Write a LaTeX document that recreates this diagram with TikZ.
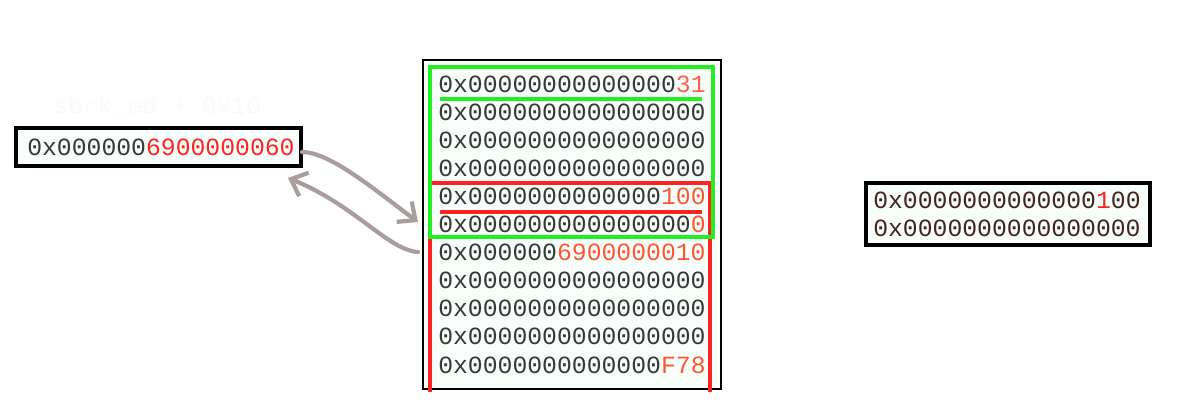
\documentclass[tikz,border=0pt]{standalone}
\usepackage{fontspec}
\setmonofont{Liberation Mono}
\usepackage{xcolor}
\usepackage{tikz}
\usetikzlibrary{arrows.meta,fit,calc}

\definecolor{cellbg}{RGB}{248,255,251}
\definecolor{hexred}{RGB}{255,35,35}
\definecolor{hexorange}{RGB}{255,85,50}
\definecolor{hexsalmon}{RGB}{255,95,75}
\definecolor{hexgreen}{RGB}{35,238,35}
\definecolor{linkgray}{RGB}{170,157,157}
\definecolor{hexbrown}{RGB}{70,35,35}
\definecolor{ghost}{RGB}{246,252,249}

\begin{document}
\begin{tikzpicture}[
    x=0.025cm, y=-0.025cm,
    every node/.style={font=\ttfamily\fontsize{17.6}{20}\selectfont},
    hex/.style={anchor=base west, inner sep=0pt, text=black!78},
    regbox/.style={draw=black, line width=2.4pt, fill=cellbg, inner sep=0pt},
    membox/.style={draw=black, line width=1pt, fill=cellbg, inner sep=0pt},
    chunkline/.style={line width=2.2pt},
    link/.style={draw=linkgray, line width=3pt, line cap=round,
                 -{Straight Barb[length=10pt, width=18pt, line width=3pt]}},
]
\useasboundingbox (0,0) rectangle (1180,416);

% --- Register ---
\node[anchor=base west, inner sep=0pt, text=ghost] (note) at (53,114) {sbrk\_ed + 0x10};
\node[regbox, fit={(16,128) (301,166)}] (brk) {};
\node[hex] (brkval) at (27,155) {0x000000\textcolor{hexred}{6900000060}};

% --- Heap memory ---
\node[membox, fit={(423,60) (721,389)}] (heap) {};
\foreach \i/\val in {
    1/{0x00000000000000\textcolor{hexsalmon}{31}},
    2/{0x0000000000000000},
    3/{0x0000000000000000},
    4/{0x0000000000000000},
    5/{0x0000000000000\textcolor{hexorange}{100}},
    6/{0x000000000000000\textcolor{hexorange}{0}},
    7/{0x000000\textcolor{hexorange}{6900000010}},
    8/{0x0000000000000000},
    9/{0x0000000000000000},
    10/{0x0000000000000000},
    11/{0x0000000000000\textcolor{hexorange}{F78}}}
  \node[hex] (r\i) at (438,{92+28.1*(\i-1)}) {\val};

% --- Chunks ---
\draw[chunkline, draw=hexred] (430,392) -- (430,183) -- (710,183) -- (710,392);
\draw[chunkline, draw=hexred, line width=2.6pt] (440,212) -- (702,212);
\draw[chunkline, draw=hexgreen] (430,67) rectangle (713,237);
\draw[chunkline, draw=hexgreen] (440,99) -- (702,99);

% --- Header copy ---
\node[regbox, fit={(866,183) (1150,245)}] (hdr) {};
\node[hex, text=hexbrown] (hdr1) at (873,208) {0x0000000000000\textcolor{hexred}{1}00};
\node[hex, text=hexbrown] (hdr2) at (873,236) {0x0000000000000000};

% --- Arrows ---
\coordinate (brkout) at (302,152);
\coordinate (brkin) at (288,178);
\coordinate (heapin) at (418,222);
\coordinate (heapout) at (418,252);
\draw[link] (brkout) .. controls (330,152) and (375,190) .. (heapin);
\draw[link] (heapout) .. controls (388,250) and (355,205) .. (brkin);

\end{tikzpicture}
\end{document}
